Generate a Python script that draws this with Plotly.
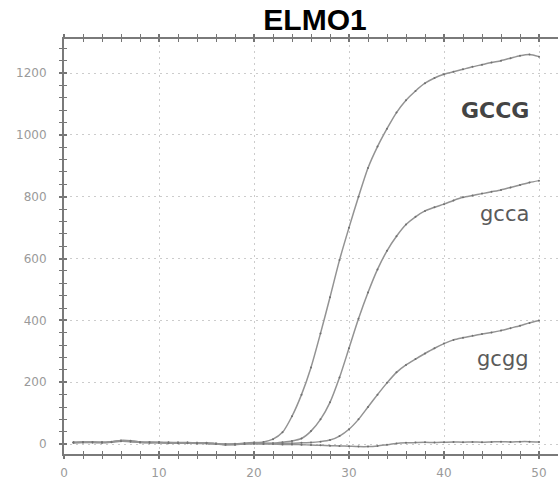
import plotly.graph_objects as go

# qPCR amplification curves for ELMO1 (fluorescence vs. cycle number)
cycles = list(range(1, 51))

gccg = [6, 7, 7, 6, 8, 11, 10, 7, 6, 6,
        5, 5, 5, 4, 4, 2, 0, 1, 3, 5,
        7, 16, 38, 90, 160, 248, 358, 475, 595, 700,
        800, 893, 962, 1020, 1072, 1112, 1142, 1167, 1184, 1196,
        1204, 1212, 1220, 1227, 1234, 1240, 1248, 1256, 1260, 1253]

gcca = [5, 6, 6, 5, 7, 12, 11, 7, 6, 5,
        5, 4, 4, 4, 3, 1, -1, 0, 2, 3,
        3, 3, 6, 10, 18, 42, 80, 135, 215, 310,
        405, 490, 565, 625, 672, 710, 735, 754, 766, 776,
        788, 798, 804, 810, 816, 822, 830, 838, 846, 852]

gcgg = [4, 5, 6, 5, 7, 10, 9, 6, 5, 5,
        4, 4, 4, 3, 3, 1, -1, -1, 1, 2,
        2, 2, 3, 3, 4, 5, 8, 13, 26, 48,
        80, 120, 160, 198, 232, 256, 275, 293, 310, 325,
        337, 344, 350, 356, 361, 367, 375, 383, 392, 400]

ntc = [5, 6, 5, 5, 6, 9, 8, 5, 4, 4,
       3, 3, 3, 2, 2, 0, -2, -2, 0, 1,
       0, 0, -1, -1, -2, -3, -4, -5, -6, -7,
       -8, -8, -6, -2, 2, 4, 5, 6, 5, 6,
       7, 6, 7, 6, 7, 8, 7, 8, 8, 7]

series = {"GCCG": gccg, "gcca": gcca, "gcgg": gcgg, "": ntc}

curve_labels = ["GCCG", "gcca", "gcgg"]
label_x = [49.2, 49.2, 49.2]
label_y = [1080, 745, 275]

x_ticks = [0, 10, 20, 30, 40, 50]
y_ticks = [0, 200, 400, 600, 800, 1000, 1200]

fig = go.Figure()

for name, vals in series.items():
    fig.add_trace(go.Scatter(
        x=cycles, y=vals, mode="lines+markers", name=name,
        line=dict(color="#939393", width=1.5, shape="spline", smoothing=0.7),
        marker=dict(size=2, color="#707070"),
        showlegend=False,
    ))

# second set of axes used only to draw the inner half of each tick mark
fig.add_trace(go.Scatter(x=[None], y=[None], xaxis="x2", yaxis="y2",
                         showlegend=False, hoverinfo="skip"))

axis_font = dict(family="DejaVu Sans", size=12, color="#9a9a9a")
tick_col = "#757575"
grid_col = "#cccccc"
grid_dash = "2px,4px"

fig.update_layout(
    width=558, height=479,
    margin=dict(l=64, r=0, t=39, b=25),
    paper_bgcolor="white", plot_bgcolor="white",
    title=dict(text="<b>ELMO1</b>", x=315 / 558, xanchor="center",
               y=1 - 19 / 479, yanchor="middle",
               font=dict(family="Liberation Sans", size=30, color="black")),
    xaxis=dict(
        range=[0, 52], tickvals=x_ticks, ticktext=[str(v) for v in x_ticks],
        showline=True, linecolor="#7a7a7a", linewidth=2, mirror="ticks",
        ticks="outside", ticklen=3, tickcolor=tick_col, tickwidth=1.5,
        minor=dict(dtick=2, ticks="outside", ticklen=3, tickcolor=tick_col,
                   tickwidth=1.2, showgrid=False),
        showgrid=True, gridcolor=grid_col, griddash=grid_dash, gridwidth=1,
        zeroline=False, tickfont=axis_font, ticklabelstandoff=4,
    ),
    yaxis=dict(
        range=[-32, 1310], tickvals=y_ticks, ticktext=[str(v) for v in y_ticks],
        showline=True, linecolor="#7a7a7a", linewidth=2,
        ticks="outside", ticklen=3, tickcolor=tick_col, tickwidth=1.5,
        minor=dict(dtick=40, tick0=0, ticks="outside", ticklen=3,
                   tickcolor=tick_col, tickwidth=1.2, showgrid=False),
        showgrid=True, gridcolor=grid_col, griddash=grid_dash, gridwidth=1,
        zeroline=False, tickfont=axis_font, ticklabelstandoff=10,
    ),
    xaxis2=dict(
        overlaying="x", matches="x", anchor="y2", side="bottom",
        range=[0, 52], tickvals=x_ticks, showticklabels=False,
        ticks="inside", ticklen=3, tickcolor=tick_col, tickwidth=1.5,
        minor=dict(dtick=2, ticks="inside", ticklen=3, tickcolor=tick_col,
                   tickwidth=1.2, showgrid=False),
        showgrid=False, zeroline=False, showline=False, mirror="ticks",
    ),
    yaxis2=dict(
        overlaying="y", matches="y", anchor="x2", side="left",
        range=[-32, 1310], tickvals=y_ticks, showticklabels=False,
        ticks="inside", ticklen=3, tickcolor=tick_col, tickwidth=1.5,
        minor=dict(dtick=40, tick0=0, ticks="inside", ticklen=3,
                   tickcolor=tick_col, tickwidth=1.2, showgrid=False),
        showgrid=False, zeroline=False, showline=False,
    ),
)

label_fonts = [
    dict(family="DejaVu Sans", size=22, color="#444444"),
    dict(family="DejaVu Sans", size=21, color="#5a5a5a"),
    dict(family="DejaVu Sans", size=21, color="#5a5a5a"),
]
for txt, lx, ly, fnt in zip(curve_labels, label_x, label_y, label_fonts):
    shown = f"<b>{txt}</b>" if txt.isupper() else txt
    fig.add_annotation(x=lx, y=ly, text=shown, showarrow=False,
                       xanchor="right", yanchor="middle", font=fnt)

fig.write_html("out.html")
